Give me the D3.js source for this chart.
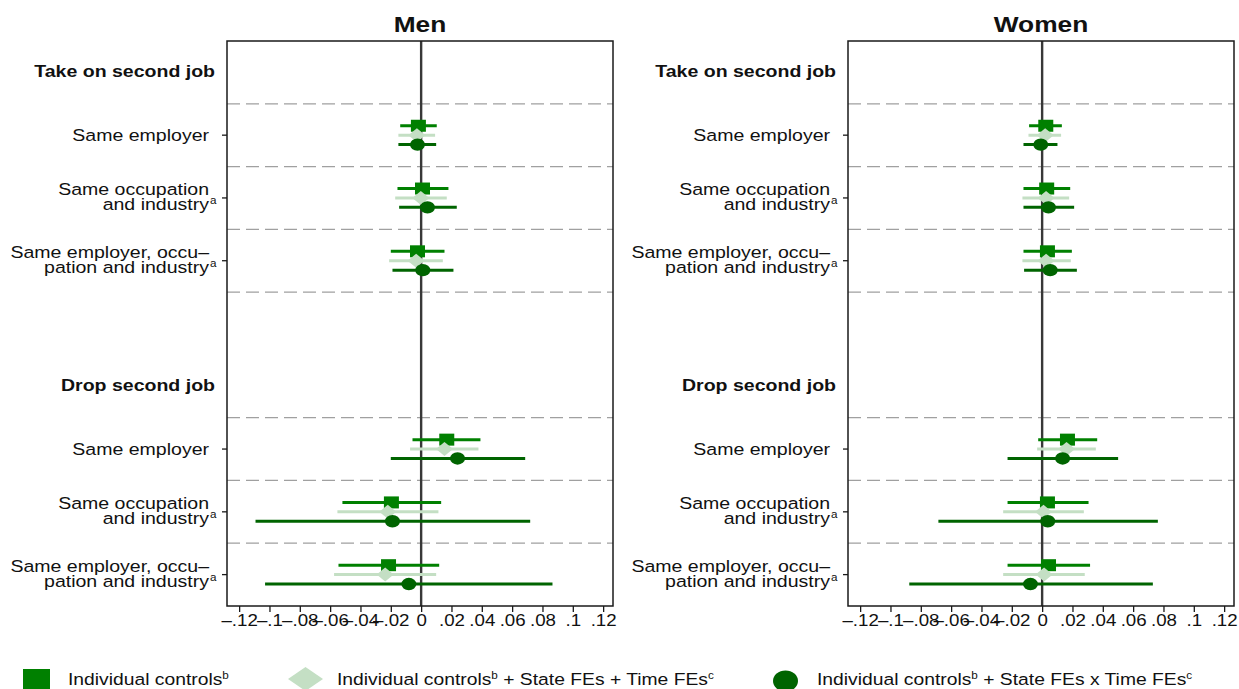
<!DOCTYPE html>
<html>
<head>
<meta charset="utf-8">
<script src="https://cdn.jsdelivr.net/npm/d3@7"></script>
<style>
  body { margin: 0; background: #fff; }
  text { font-family: "Liberation Sans", Arial, Helvetica, sans-serif; fill: #111; }
</style>
</head>
<body>
<div id="chart"></div>
<script>

// ---- data ----
var sections = ["Take on second job", "Drop second job"];
var outcomes = [["Same employer"], ["Same occupation", "and industry"], ["Same employer, occu\u2013", "pation and industry"]];
var outcomeSup = ["", "a", "a"];
var panelTitles = ["Men", "Women"];
var seriesKeys = ["ind", "state", "stateTime"];
var xTicks = [-0.12, -0.1, -0.08, -0.06, -0.04, -0.02, 0, 0.02, 0.04, 0.06, 0.08, 0.1, 0.12];

// [estimate, lower, upper] per row: 3 rows "take on", then 3 rows "drop"
var menInd = [
  [-0.0018, -0.0138, 0.0103], [0.0009, -0.0156, 0.0180], [-0.0024, -0.0200, 0.0154],
  [0.0169, -0.0057, 0.0391], [-0.0196, -0.0519, 0.0132], [-0.0215, -0.0545, 0.0119]
];
var menState = [
  [-0.0028, -0.0150, 0.0092], [-0.0002, -0.0171, 0.0169], [-0.0033, -0.0211, 0.0143],
  [0.0154, -0.0073, 0.0378], [-0.0220, -0.0552, 0.0114], [-0.0237, -0.0574, 0.0099]
];
var menStateTime = [
  [-0.0024, -0.0150, 0.0099], [0.0042, -0.0145, 0.0235], [0.0011, -0.0189, 0.0213],
  [0.0240, -0.0200, 0.0686], [-0.0189, -0.1092, 0.0719], [-0.0081, -0.1029, 0.0866]
];
var womenInd = [
  [0.0024, -0.0086, 0.0130], [0.0030, -0.0123, 0.0185], [0.0035, -0.0123, 0.0196],
  [0.0167, -0.0026, 0.0363], [0.0035, -0.0228, 0.0306], [0.0042, -0.0228, 0.0316]
];
var womenState = [
  [0.0020, -0.0090, 0.0125], [0.0026, -0.0130, 0.0178], [0.0026, -0.0130, 0.0189],
  [0.0161, -0.0033, 0.0354], [0.0009, -0.0257, 0.0275], [0.0013, -0.0257, 0.0281]
];
var womenStateTime = [
  [-0.0009, -0.0123, 0.0101], [0.0042, -0.0123, 0.0211], [0.0053, -0.0119, 0.0229],
  [0.0135, -0.0228, 0.0501], [0.0037, -0.0684, 0.0763], [-0.0077, -0.0876, 0.0730]
];

// ---- layout ----
var W = 1239, H = 689;
var SX = 1.17; // the original is stretched horizontally
var plotTop = 41, plotBottom = 606;
var panels = [
  {title: panelTitles[0], x0: 227, x1: 613, series: [menInd, menState, menStateTime]},
  {title: panelTitles[1], x0: 848, x1: 1234, series: [womenInd, womenState, womenStateTime]}
];
var colors = {ind: "#008000", state: "#c4dfc4", stateTime: "#006400"};

var svg = d3.select("#chart").append("svg")
  .attr("width", W)
  .attr("height", H);

// row slots: header, three rows, gap, header, three rows
var slots = [];
sections.forEach(function(s, i) {
  if (i > 0) slots.push("gap" + i);
  slots.push("h" + i);
  outcomes.forEach(function(o, j) { slots.push("r" + i + "-" + j); });
});

var y = d3.scaleBand().domain(slots).range([plotTop, plotBottom]);
var bw = y.bandwidth();
var offset = d3.scalePoint().domain(seriesKeys).range([-0.15 * bw, 0.15 * bw]);

function stext(parent, x, yy, anchor, size, weight) {
  return parent.append("text")
    .attr("transform", "translate(" + x + "," + yy + ") scale(" + SX + ",1)")
    .attr("text-anchor", anchor)
    .style("font-size", size + "px")
    .style("font-weight", weight || "normal");
}

function tickFmt(v) {
  if (Math.abs(v) < 1e-9) return "0";
  var s = d3.format(".2~f")(Math.abs(v)).replace(/^0/, "");
  return (v < 0 ? "\u2013" : "") + s;
}

panels.forEach(function(p) {
  var g = svg.append("g");
  var x = d3.scaleLinear().domain([-0.128, 0.1265]).range([p.x0, p.x1]);

  var rows = [];
  sections.forEach(function(s, i) {
    outcomes.forEach(function(o, j) { rows.push("r" + i + "-" + j); });
  });

  // dashed separators around each row
  var lines = [];
  sections.forEach(function(s, i) {
    outcomes.forEach(function(o, j) {
      var k = "r" + i + "-" + j;
      lines.push(y(k));
      if (j == outcomes.length - 1 && i == 0) lines.push(y(k) + bw);
    });
  });
  g.selectAll(".sep")
    .data(lines)
    .enter().append("line")
    .attr("class", "sep")
    .attr("x1", p.x0).attr("x2", p.x1)
    .attr("y1", function(d) { return d; })
    .attr("y2", function(d) { return d; })
    .attr("stroke", "#a0a0a0")
    .attr("stroke-width", 1.2)
    .attr("stroke-dasharray", "13,6");

  // zero line
  g.append("line")
    .attr("x1", x(0)).attr("x2", x(0))
    .attr("y1", plotTop).attr("y2", plotBottom)
    .attr("stroke", "#383838")
    .attr("stroke-width", 2.4);

  // estimates
  seriesKeys.forEach(function(key, si) {
    var data = p.series[si].map(function(d, k) {
      return {row: rows[k], est: d[0], lo: d[1], hi: d[2]};
    });
    var cy = function(d) { return y(d.row) + bw / 2 + offset(key); };

    g.selectAll(".ci-" + key)
      .data(data)
      .enter().append("line")
      .attr("class", "ci-" + key)
      .attr("x1", function(d) { return x(d.lo); })
      .attr("x2", function(d) { return x(d.hi); })
      .attr("y1", cy).attr("y2", cy)
      .attr("stroke", colors[key])
      .attr("stroke-width", 3);

    var m = g.selectAll(".m-" + key).data(data).enter();
    if (key == "ind") {
      m.append("rect")
        .attr("x", function(d) { return x(d.est) - 7.5; })
        .attr("y", function(d) { return cy(d) - 6; })
        .attr("width", 15).attr("height", 12)
        .attr("fill", colors[key]);
    } else if (key == "state") {
      m.append("path")
        .attr("d", function(d) {
          var cx = x(d.est), c = cy(d);
          return "M" + (cx - 8.5) + "," + c + "L" + cx + "," + (c - 7) + "L" + (cx + 8.5) + "," + c + "L" + cx + "," + (c + 7) + "Z";
        })
        .attr("fill", colors[key]);
    } else {
      m.append("ellipse")
        .attr("cx", function(d) { return x(d.est); })
        .attr("cy", cy)
        .attr("rx", 7.5).attr("ry", 6.2)
        .attr("fill", colors[key]);
    }
  });

  // frame
  g.append("rect")
    .attr("x", p.x0).attr("y", plotTop)
    .attr("width", p.x1 - p.x0).attr("height", plotBottom - plotTop)
    .attr("fill", "none")
    .attr("stroke", "#1a1a1a")
    .attr("stroke-width", 1.5);

  // x axis
  var xa = g.append("g")
    .attr("transform", "translate(0," + plotBottom + ")")
    .call(d3.axisBottom(x).tickValues(xTicks).tickSize(6).tickFormat(tickFmt));
  xa.select(".domain").remove();
  xa.selectAll(".tick line").attr("stroke", "#1a1a1a").attr("stroke-width", 1.3);
  xa.selectAll(".tick text")
    .attr("y", 20).attr("dy", null)
    .attr("transform", "scale(" + SX + ",1)")
    .style("font-size", "16px")
    .style("font-family", "'Liberation Sans', Arial, sans-serif")
    .attr("fill", "#111");

  // y ticks at row centres
  var ya = g.append("g")
    .attr("transform", "translate(" + p.x0 + ",0)")
    .call(d3.axisLeft(y).tickValues(rows).tickSize(5).tickFormat(""));
  ya.select(".domain").remove();
  ya.selectAll(".tick line").attr("stroke", "#1a1a1a").attr("stroke-width", 1.3);

  // row labels
  sections.forEach(function(s, i) {
    stext(g, p.x0 - 12, y("h" + i) + bw / 2 + 5, "end", 16.7, "bold").text(s);
    outcomes.forEach(function(o, j) {
      var c = y("r" + i + "-" + j) + bw / 2;
      var lx = p.x0 - 18;
      o.forEach(function(line, li) {
        var by = o.length == 1 ? c + 5.5 : (li == 0 ? c - 3 : c + 12.5);
        stext(g, lx, by, "end", 16.7, "normal").text(line);
        if (li == o.length - 1 && outcomeSup[j]) {
          stext(g, lx + 1, by - 6, "start", 10, "normal").text(outcomeSup[j]);
        }
      });
    });
  });

  // panel title
  stext(g, (p.x0 + p.x1) / 2, 32, "middle", 22.5, "bold").text(p.title);
});

// ---- legend ----
var lg = svg.append("g");
lg.append("rect")
  .attr("x", 23).attr("y", 669).attr("width", 27).attr("height", 22)
  .attr("fill", colors.ind);
lg.append("path")
  .attr("d", "M288,679L305.5,667L323,679L305.5,691Z")
  .attr("fill", colors.state);
lg.append("ellipse")
  .attr("cx", 785.5).attr("cy", 681).attr("rx", 12.5).attr("ry", 10.5)
  .attr("fill", colors.stateTime);

var legendItems = [
  {x: 68, parts: [["Individual controls", ""], ["b", "sup"]]},
  {x: 337, parts: [["Individual controls", ""], ["b", "sup"], [" + State FEs + Time FEs", ""], ["c", "sup"]]},
  {x: 817, parts: [["Individual controls", ""], ["b", "sup"], [" + State FEs x Time FEs", ""], ["c", "sup"]]}
];
legendItems.forEach(function(it) {
  var t = stext(lg, it.x, 685, "start", 16.5, "normal");
  var raised = false;
  it.parts.forEach(function(pt) {
    var ts = t.append("tspan").text(pt[0]);
    if (pt[1] == "sup") {
      ts.attr("dy", -6).style("font-size", "10px");
      raised = true;
    } else if (raised) {
      ts.attr("dy", 6);
      raised = false;
    }
  });
});

</script>
</body>
</html>
